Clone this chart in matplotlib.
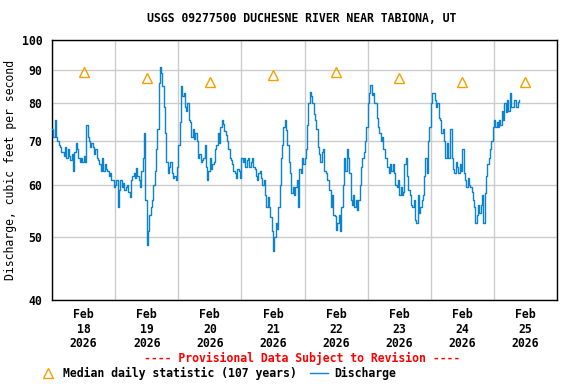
import matplotlib
matplotlib.use("Agg")
import matplotlib.pyplot as plt
import matplotlib.dates as mdates
import pandas as pd

# ---- data (30-minute steps) ----
start_time = "2026-02-18 00:00"
discharge = [
    # Feb 18
    73, 71, 75.5, 71, 70, 69, 68.5, 67.5, 67.5, 66.5, 68.5, 66, 68, 66.5, 65.5, 67,
    63, 67.5, 69.5, 68, 66, 65, 66, 65, 66.5, 65, 74, 71, 70, 68.5, 69.5, 68.5,
    67, 68, 66, 65.5, 64.5, 63, 66, 63, 64.5, 63.5, 63, 62, 62.5, 61, 61, 59.5,
    # Feb 19
    60, 61, 55.6, 59, 61, 59.5, 60.5, 59, 59.5, 60, 58.5, 57.5, 61, 62, 62.5, 61.5,
    63.8, 62, 61, 59.5, 63, 66, 72, 57, 48.5, 51, 54, 55.5, 57, 60, 63, 68,
    73, 86, 91, 89, 85, 79, 72, 65, 62.5, 64, 65, 62.5, 61.5, 62, 61, 64,
    # Feb 20
    69, 75, 85, 82, 83, 79, 78, 80, 75.5, 75, 71, 73, 70.5, 72, 70, 66,
    67, 65, 65.5, 66, 69, 64, 61, 63, 66, 63.5, 64.5, 65, 68, 69, 72, 69.5,
    73.5, 75.5, 74.5, 72.5, 71.5, 70, 68, 66, 65.5, 64.5, 63, 62.5, 61.5, 63.5, 63, 61.5,
    # Feb 21
    66, 65, 66, 64, 65.5, 66, 64, 65, 66, 64, 63.5, 62, 61, 62.5, 63, 61.5,
    60, 61, 58, 55.6, 57.5, 55.6, 53.5, 51, 47.5, 50, 52.5, 51.3, 55.6, 60, 66, 69,
    73.7, 75.4, 72.8, 69, 65, 62.5, 58.3, 59.5, 58, 59.5, 61, 55.6, 63.5, 62.5, 66, 64.5,
    # Feb 22
    66, 68, 74, 80, 83.4, 82, 80, 77, 75.5, 73, 68.6, 67, 65, 67.5, 68, 63,
    62.5, 61, 61, 59, 55.6, 58, 54, 53.7, 51.2, 52.5, 54, 51, 55.6, 60, 66, 63,
    68, 66, 62.5, 57, 56, 58, 55.6, 57, 55, 57, 60, 64, 66, 67.5, 70, 73.7,
    # Feb 23
    80, 83, 85.3, 82.5, 83, 80, 80, 76, 73.7, 72, 70, 71, 68, 66, 66, 64,
    62.5, 64.5, 63, 64.5, 62.5, 60, 59.5, 61, 58, 59.5, 58, 58.5, 64.5, 66, 62, 59,
    58, 56, 55.6, 57, 53, 52.5, 58, 54.3, 55.6, 57, 58, 62, 66, 62.5, 70, 73.7,
    # Feb 24
    80, 83, 83, 81, 79, 80, 76, 75.5, 72, 73, 70, 66, 69.5, 66, 66, 73,
    66, 63.5, 62.5, 65, 64, 62.5, 64.5, 63, 68, 62.5, 61, 59.5, 61.5, 60, 59.5, 58.5,
    57, 55.6, 52.5, 54, 56, 54.3, 56, 58, 52.5, 58.3, 62, 64.5, 66, 68, 70, 73.7,
    # Feb 25
    75.5, 73.7, 75, 73.5, 75.5, 74, 78, 75.5, 80, 77.5, 81, 78, 83, 79, 79, 81,
    81, 79, 80.5, 81,
]
median_days = ["2026-02-18 12:00", "2026-02-19 12:00", "2026-02-20 12:00", "2026-02-21 12:00",
               "2026-02-22 12:00", "2026-02-23 12:00", "2026-02-24 12:00", "2026-02-25 12:00"]
median_values = [89.4, 87.4, 86.3, 88.4, 89.4, 87.4, 86.3, 86.3]
y_ticks = [40, 50, 60, 70, 80, 90, 100]
title = "USGS 09277500 DUCHESNE RIVER NEAR TABIONA, UT"
y_label = "Discharge, cubic feet per second"

times = pd.date_range(start_time, periods=len(discharge), freq="30min")
mtimes = pd.to_datetime(median_days)

FONT = "DejaVu Sans Mono"
FS = 8.3
plt.rcParams["font.family"] = FONT
plt.rcParams["font.weight"] = "bold"

fig = plt.figure(figsize=(5.76, 3.84), dpi=100)
ax = fig.add_axes([52/576, 1-300/384, 505/576, 260/384])

ax.set_yscale("log")
ax.set_ylim(40, 100)
ax.set_xlim(pd.Timestamp("2026-02-18 00:00"), pd.Timestamp("2026-02-26 00:00"))

line, = ax.plot(times, discharge, drawstyle="steps-post", color="#0a84d2", lw=1.0, zorder=3)
tri, = ax.plot(mtimes, median_values, linestyle="none", marker="^", markersize=7,
               markerfacecolor="none", markeredgecolor="#f5a000", markeredgewidth=1.0, zorder=4)

ax.set_yticks(y_ticks)
ax.set_yticklabels([str(v) for v in y_ticks])
ax.yaxis.set_minor_locator(matplotlib.ticker.NullLocator())
ax.tick_params(axis="y", which="both", length=0, pad=7, labelsize=FS)

ax.xaxis.set_major_locator(mdates.HourLocator(byhour=[12]))
ax.xaxis.set_major_formatter(mdates.DateFormatter("%b\n%d\n%Y"))
ax.xaxis.set_minor_locator(mdates.DayLocator())
ax.tick_params(axis="x", which="both", length=0, pad=6, labelsize=FS)
for lab in ax.get_xticklabels():
    lab.set_linespacing(1.12)

ax.grid(True, which="minor", axis="x", color="#cccccc", lw=1.0)
ax.grid(True, which="major", axis="y", color="#cccccc", lw=1.0)
ax.grid(False, which="major", axis="x")
for s in ax.spines.values():
    s.set_color("black")
    s.set_linewidth(1.0)

ax.set_ylabel(y_label, fontsize=FS, labelpad=3)
fig.text(302/576, 1-19/384, title, ha="center", va="center", fontsize=FS)
fig.text(302/576, 1-358/384, "---- Provisional Data Subject to Revision ----",
         ha="center", va="center", fontsize=FS, color="red")

fig.legend(handles=[tri, line], labels=["Median daily statistic (107 years)", "Discharge"],
           loc="center left", bbox_to_anchor=(39/576, 1-373/384), ncol=2, frameon=False,
           fontsize=FS, handlelength=1.6, handletextpad=0.5, columnspacing=1.1,
           borderpad=0, borderaxespad=0)

fig.savefig("out.png", dpi=100)
